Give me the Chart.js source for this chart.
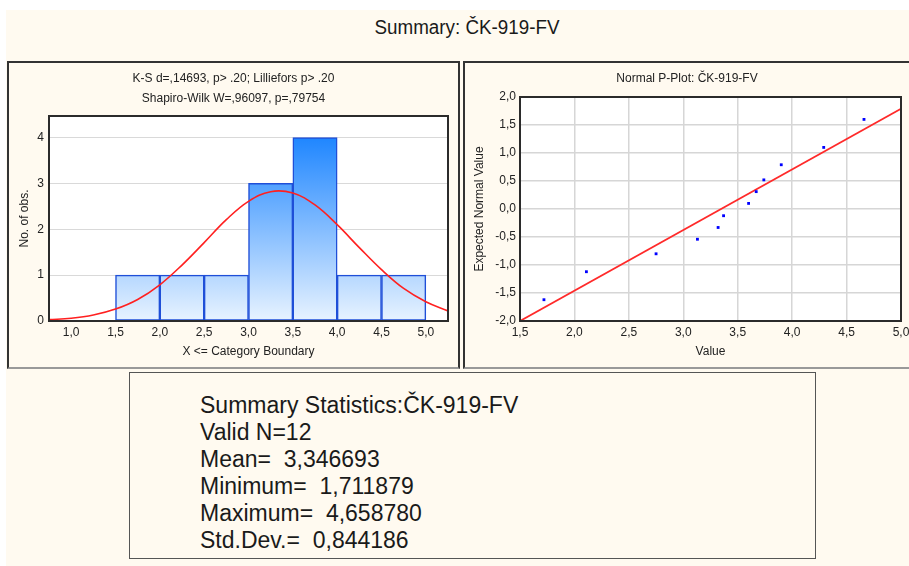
<!DOCTYPE html>
<html>
<head>
<meta charset="utf-8">
<script src="https://cdn.jsdelivr.net/npm/chart.js@4.4.0/dist/chart.umd.min.js"></script>
<style>
    body { margin: 0; width: 909px; height: 566px; background: #fff; overflow: hidden; position: relative; font-family: "Liberation Sans", Arial, sans-serif; color: #1a1a1a; }
    #fondo { position: absolute; left: 6px; top: 10px; width: 903px; height: 556px; background: #fffaf0; }
    #titulo { position: absolute; left: 317px; top: 17px; width: 300px; text-align: center; font-size: 20px; line-height: 20px; transform: scaleX(0.94); }
    .panel { position: absolute; top: 61px; height: 308px; box-sizing: border-box; border: 2px solid #333; border-bottom-color: #999; background: #fffaf0; }
    #panelHist { left: 7px; width: 453px; }
    #panelPlot { left: 463px; width: 460px; }
    .panel canvas { position: absolute; left: 0; top: 0; }
    #resumen { position: absolute; left: 129px; top: 372px; width: 687px; height: 187px; box-sizing: border-box; border: 1.5px solid #555; background: #fffaf0; }
    #resumen div { position: absolute; left: 70px; top: 19px; font-size: 23px; line-height: 27px; white-space: pre; }
</style>
</head>
<body>
<div id="fondo"></div>
<div id="titulo">Summary: ČK-919-FV</div>
<div class="panel" id="panelHist"><canvas id="chartHist" width="449" height="304"></canvas></div>
<div class="panel" id="panelPlot"><canvas id="chartPlot" width="444" height="304"></canvas></div>
<div id="resumen"><div id="lineasResumen"></div></div>

<script>
// ================== DATOS ==================
// Histograma: límites de clase y número de observaciones
const limitesClase = [1.5, 2.0, 2.5, 3.0, 3.5, 4.0, 4.5, 5.0];
const frecuencias = [1, 1, 1, 3, 4, 1, 1];
const ticksHistX = [1.0, 1.5, 2.0, 2.5, 3.0, 3.5, 4.0, 4.5, 5.0];
const ticksHistY = [0, 1, 2, 3, 4];

// Curva normal ajustada
const curvaX = [0.75, 1.0, 1.25, 1.5, 1.75, 2.0, 2.25, 2.5, 2.75, 3.0, 3.25, 3.5, 3.75, 4.0, 4.25, 4.5, 4.75, 5.0, 5.25];
const curvaY = [0.03, 0.06, 0.13, 0.26, 0.47, 0.79, 1.22, 1.71, 2.21, 2.61, 2.82, 2.79, 2.53, 2.10, 1.60, 1.12, 0.71, 0.42, 0.22];

// Normal P-Plot: valores observados y valor normal esperado
const valores = [1.72, 2.11, 2.75, 3.13, 3.32, 3.37, 3.60, 3.67, 3.74, 3.90, 4.29, 4.66];
const esperados = [-1.62, -1.12, -0.80, -0.54, -0.33, -0.12, 0.10, 0.31, 0.52, 0.79, 1.10, 1.60];
const rectaX = [1.5, 5.0];
const rectaY = [-2.0, 1.79];

// Textos
const tituloHist = ['K-S d=,14693, p> .20; Lilliefors p> .20', 'Shapiro-Wilk W=,96097, p=,79754'];
const tituloPlot = 'Normal P-Plot: ČK-919-FV';
const lineasResumen = [
    'Summary Statistics:ČK-919-FV',
    'Valid N=12',
    'Mean=  3,346693',
    'Minimum=  1,711879',
    'Maximum=  4,658780',
    'Std.Dev.=  0,844186'
];

document.getElementById('lineasResumen').textContent = lineasResumen.join('\n');

// ================== COMUNES ==================
const fuente = { family: '"Liberation Sans", Arial, sans-serif', size: 12 };
const colorTexto = '#222';
const coma = v => Number(v).toFixed(1).replace('.', ',');

// fondo blanco y marco del área de trazado
const marcoGrafico = {
    id: 'marcoGrafico',
    beforeDraw(chart) {
        const { ctx, chartArea: a } = chart;
        ctx.save();
        ctx.fillStyle = '#ffffff';
        ctx.fillRect(a.left, a.top, a.right - a.left, a.bottom - a.top);
        ctx.restore();
    },
    afterDraw(chart) {
        const { ctx, chartArea: a } = chart;
        ctx.save();
        ctx.strokeStyle = '#2b2b2b';
        ctx.lineWidth = 2;
        ctx.strokeRect(a.left, a.top, a.right - a.left, a.bottom - a.top);
        ctx.restore();
    }
};

function fijarEjeX(alto, derecha) {
    return s => { s.height = alto; s.paddingLeft = 0; s.paddingRight = derecha; };
}
function fijarEjeY(ancho) {
    return s => { s.width = ancho; s.paddingTop = 0; s.paddingBottom = 0; };
}

// ================== HISTOGRAMA ==================
const barras = frecuencias.map((f, i) => ({ x: (limitesClase[i] + limitesClase[i + 1]) / 2, y: f }));
const curva = curvaX.map((x, i) => ({ x: x, y: curvaY[i] }));

new Chart(document.getElementById('chartHist'), {
    type: 'bar',
    data: {
        datasets: [
            {
                type: 'line',
                data: curva,
                borderColor: '#ff2020',
                borderWidth: 1.6,
                pointRadius: 0,
                tension: 0.4,
                order: 1
            },
            {
                type: 'bar',
                data: barras,
                backgroundColor: (context) => {
                    const chart = context.chart;
                    const { ctx, chartArea, scales } = chart;
                    if (!chartArea) return '#9ccaff';
                    const g = ctx.createLinearGradient(0, scales.y.getPixelForValue(0), 0, scales.y.getPixelForValue(4));
                    g.addColorStop(0, '#e8f3ff');
                    g.addColorStop(1, '#1f86ff');
                    return g;
                },
                borderColor: '#1f4fd8',
                borderWidth: 1.5,
                borderSkipped: false,
                barPercentage: 1,
                categoryPercentage: 1,
                order: 2
            }
        ]
    },
    options: {
        responsive: false,
        animation: false,
        devicePixelRatio: 1,
        layout: { padding: 0 },
        plugins: {
            legend: { display: false },
            tooltip: { enabled: false },
            title: {
                display: true,
                text: tituloHist,
                color: colorTexto,
                font: { ...fuente, weight: 'normal', lineHeight: '19.5px' },
                padding: { top: 6, bottom: 8 }
            }
        },
        scales: {
            x: {
                type: 'linear',
                min: 0.75,
                max: 5.25,
                offset: false,
                afterBuildTicks: s => { s.ticks = ticksHistX.map(v => ({ value: v })); },
                afterFit: fijarEjeX(46, 10),
                grid: { display: false, drawTicks: false, offset: false },
                border: { display: false },
                ticks: { padding: 4, color: colorTexto, font: fuente, maxRotation: 0, autoSkip: false, callback: coma },
                title: { display: true, text: 'X <= Category Boundary', color: colorTexto, font: fuente, padding: { top: 0, bottom: 8 } }
            },
            y: {
                min: 0,
                max: 4.47,
                afterBuildTicks: s => { s.ticks = ticksHistY.map(v => ({ value: v })); },
                afterFit: fijarEjeY(40),
                grid: { color: '#d9d9d9', lineWidth: 1, drawTicks: false },
                border: { display: false },
                ticks: { padding: 5, color: colorTexto, font: fuente },
                title: { display: true, text: 'No. of obs.', color: colorTexto, font: fuente, padding: { top: 8, bottom: 0 } }
            }
        }
    },
    plugins: [marcoGrafico]
});

// ================== NORMAL P-PLOT ==================
const puntos = valores.map((v, i) => ({ x: v, y: esperados[i] }));
const recta = rectaX.map((x, i) => ({ x: x, y: rectaY[i] }));

new Chart(document.getElementById('chartPlot'), {
    type: 'scatter',
    data: {
        datasets: [
            {
                type: 'line',
                data: recta,
                borderColor: '#ff2a2a',
                borderWidth: 1.8,
                pointRadius: 0,
                order: 2
            },
            {
                data: puntos,
                pointStyle: 'rect',
                pointRadius: 2,
                backgroundColor: '#0000ff',
                borderWidth: 0,
                order: 1
            }
        ]
    },
    options: {
        responsive: false,
        animation: false,
        devicePixelRatio: 1,
        layout: { padding: 0 },
        plugins: {
            legend: { display: false },
            tooltip: { enabled: false },
            title: {
                display: true,
                text: tituloPlot,
                color: colorTexto,
                font: { ...fuente, weight: 'normal', lineHeight: '20px' },
                padding: { top: 6, bottom: 8 }
            }
        },
        scales: {
            x: {
                type: 'linear',
                min: 1.5,
                max: 5.0,
                afterFit: fijarEjeX(46, 8),
                grid: { color: '#d6d6d6', lineWidth: 1.5, drawTicks: false },
                border: { display: false },
                ticks: { stepSize: 0.5, padding: 4, color: colorTexto, font: fuente, maxRotation: 0, callback: coma },
                title: { display: true, text: 'Value', color: colorTexto, font: fuente, padding: { top: 0, bottom: 8 } }
            },
            y: {
                min: -2.0,
                max: 2.0,
                afterFit: fijarEjeY(55),
                grid: { color: '#d6d6d6', lineWidth: 1.5, drawTicks: false },
                border: { display: false },
                ticks: { stepSize: 0.5, padding: 4, color: colorTexto, font: fuente, callback: coma },
                title: { display: true, text: 'Expected Normal Value', color: colorTexto, font: fuente, padding: { top: 7, bottom: 0 } }
            }
        }
    },
    plugins: [marcoGrafico]
});
</script>
</body>
</html>
